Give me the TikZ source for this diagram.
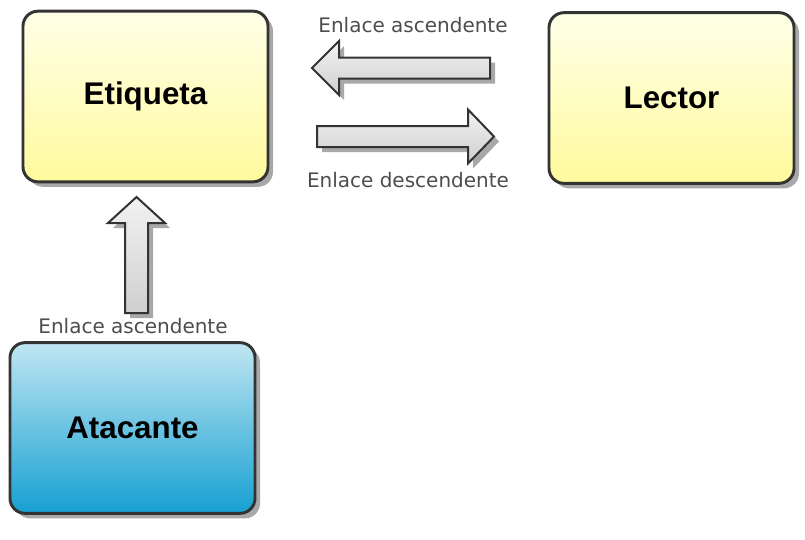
\documentclass[tikz,border=0pt]{standalone}
\usepackage{fontspec}
\setmainfont{Liberation Sans}
\newfontfamily\dvfont{DejaVu Sans}
\definecolor{ytop}{HTML}{FFFFE8}
\definecolor{ybot}{HTML}{FFFA9C}
\definecolor{btop}{HTML}{C0E6F2}
\definecolor{bbot}{HTML}{16A0D2}
\definecolor{boxline}{HTML}{333333}
\definecolor{shadowgray}{HTML}{A8A8A8}
\definecolor{labelgray}{HTML}{4D4D4D}
\definecolor{atop}{HTML}{F2F2F2}
\definecolor{abot}{HTML}{CFCFCF}
\begin{document}
\begin{tikzpicture}[x=0.75pt,y=0.75pt,
  boxbase/.style={rectangle, rounded corners=11.25pt, minimum width=183.75pt, minimum height=128pt, inner sep=0pt},
  box/.style={boxbase, draw=boxline, line width=2.2pt, font=\bfseries\fontsize{23.5}{28}\selectfont},
  yellowbox/.style={box, top color=ytop, bottom color=ybot},
  bluebox/.style={box, top color=btop, bottom color=bbot},
  shadowbox/.style={boxbase, fill=shadowgray},
  lbl/.style={font=\dvfont\fontsize{15}{18}\selectfont, text=labelgray, inner sep=0pt},
  blockarrow/.style={draw=boxline, line width=1.5pt, top color=atop, bottom color=abot, line join=miter},
  arrowshadow/.style={fill=shadowgray, shift={(5,-5)}}
]
\useasboundingbox (0,0) rectangle (805,-539);
% shadows of boxes
\node[shadowbox] (etS) at (150.5,-101.5) {};
\node[shadowbox] (leS) at (676.5,-103) {};
\node[shadowbox] (atS) at (137.5,-433) {};
% boxes
\node[yellowbox] (et) at (145.5,-96.5) {Etiqueta};
\node[yellowbox] (le) at (671.5,-98) {Lector};
\node[bluebox] (at) at (132.5,-428) {Atacante};
% arrows: shadows
\fill[arrowshadow] (312,-68) -- (339,-41) -- (339,-57.5) -- (490,-57.5) -- (490,-78.5) -- (339,-78.5) -- (339,-95) -- cycle;
\fill[arrowshadow] (494,-136.5) -- (468,-109.5) -- (468,-126) -- (317,-126) -- (317,-147) -- (468,-147) -- (468,-163.5) -- cycle;
\fill[arrowshadow] (136.5,-197) -- (165,-223) -- (148,-223) -- (148,-313) -- (125,-313) -- (125,-223) -- (108,-223) -- cycle;
% arrows
\draw[blockarrow] (312,-68) -- (339,-41) -- (339,-57.5) -- (490,-57.5) -- (490,-78.5) -- (339,-78.5) -- (339,-95) -- cycle;
\draw[blockarrow] (494,-136.5) -- (468,-109.5) -- (468,-126) -- (317,-126) -- (317,-147) -- (468,-147) -- (468,-163.5) -- cycle;
\draw[blockarrow] (136.5,-197) -- (165,-223) -- (148,-223) -- (148,-313) -- (125,-313) -- (125,-223) -- (108,-223) -- cycle;
% labels
\node[lbl] (l1) at (413,-25) {Enlace ascendente};
\node[lbl] (l2) at (408,-180) {Enlace descendente};
\node[lbl] (l3) at (133,-326) {Enlace ascendente};
\end{tikzpicture}
\end{document}
